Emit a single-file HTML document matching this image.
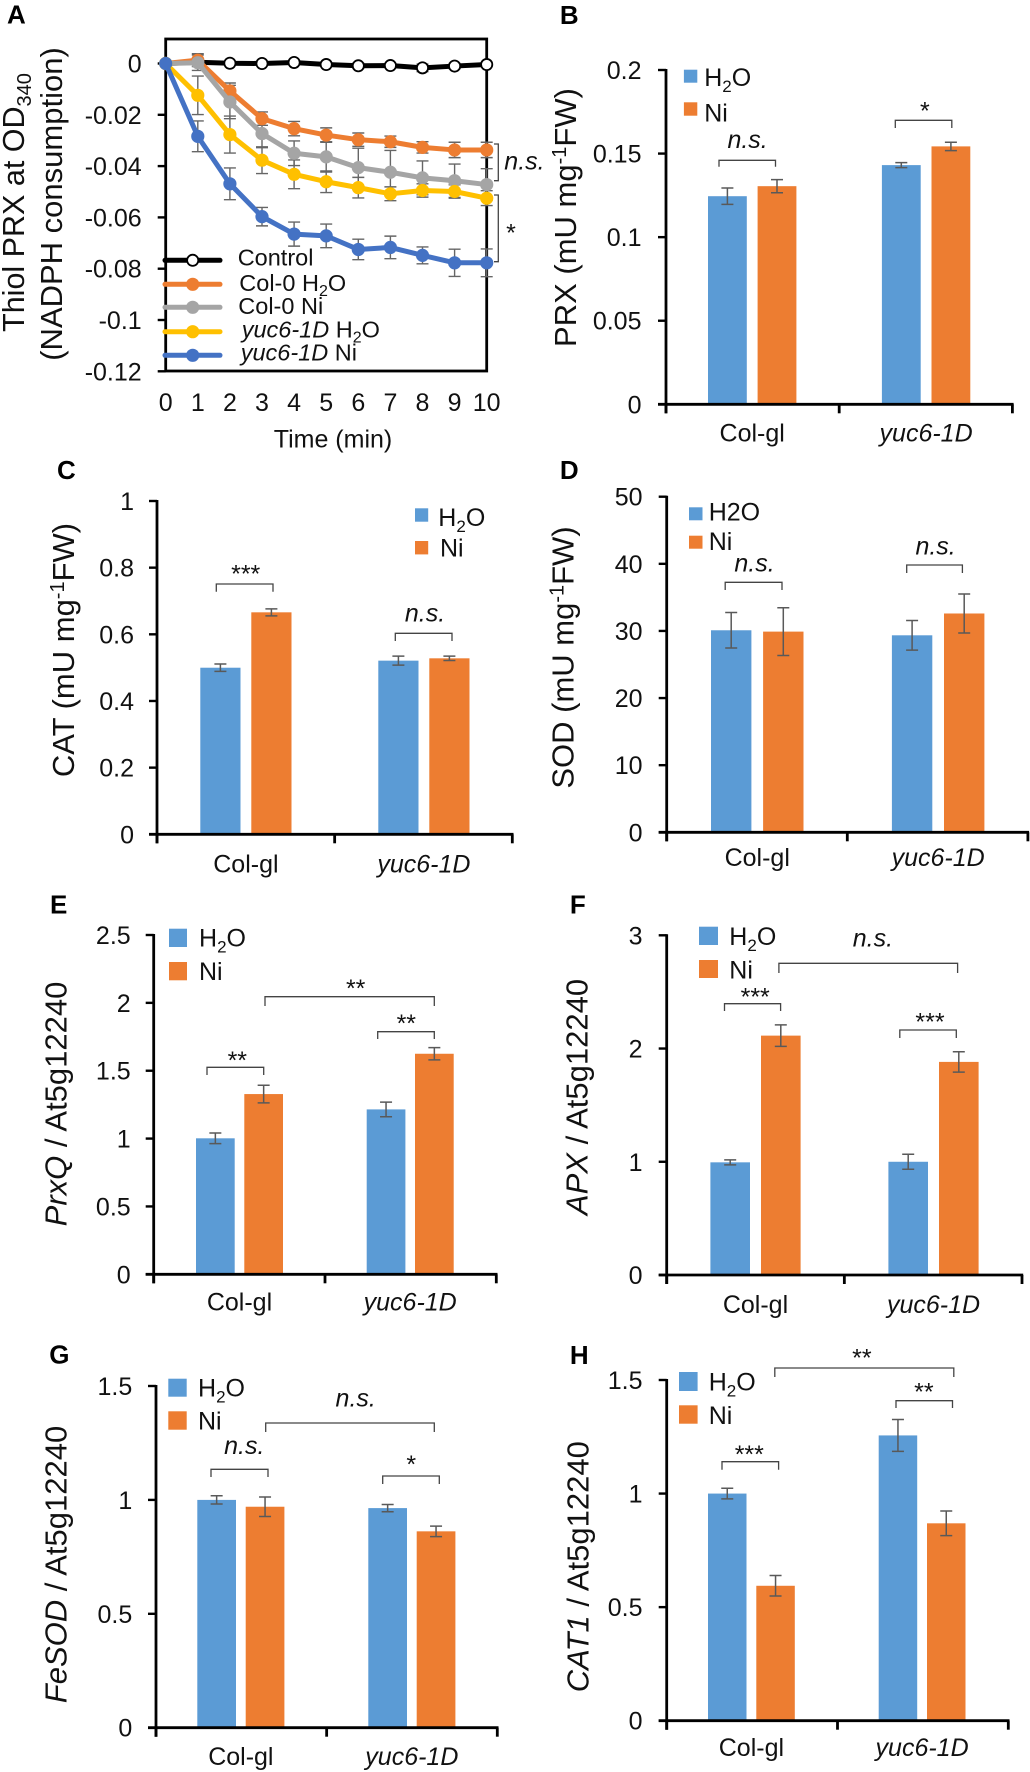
<!DOCTYPE html>
<html lang="en">
<head>
<meta charset="utf-8">
<title>Antioxidant enzyme activity and expression panels</title>
<style>
html,body{margin:0;padding:0;background:#fff;}
svg{display:block;}
text{font-family:"Liberation Sans",Arial,sans-serif;fill:#111;}
.tick,.leg,.cat,.ns,.star{font-size:25px;}
.ttl{font-size:31px;}
.let{font-size:26px;font-weight:bold;fill:#000;}
.it{font-style:italic;}
.lg{font-size:23.5px;}
.br{fill:none;stroke:#444;stroke-width:1.3;}
.blue{fill:#5B9BD5;}
.orange{fill:#ED7D31;}
</style>
</head>
<body>
<svg id="figure" xmlns="http://www.w3.org/2000/svg" width="1030" height="1772" viewBox="0 0 1030 1772">
<rect x="0" y="0" width="1030" height="1772" fill="#fff"/>

<!-- Panel A static -->
<g id="panel-a">
<text class="let" x="7" y="23.5">A</text>
<text class="ttl" style="font-size:30.5px" text-anchor="middle" transform="translate(24,202.5) rotate(-90)">Thiol PRX at OD<tspan font-size="20" dy="7">340</tspan></text>
<text class="ttl" text-anchor="middle" transform="translate(62,204) rotate(-90)">(NADPH consumption)</text>
<text class="tick" text-anchor="middle" x="333" y="447.7">Time (min)</text>
</g>

<!-- Panel B static -->
<g id="panel-b">
<text class="let" x="559.9" y="24">B</text>
<text class="ttl" text-anchor="middle" transform="translate(576,217.5) rotate(-90)">PRX (mU mg<tspan font-size="20" dy="-10">-1</tspan><tspan dy="10">FW)</tspan></text>
<rect class="blue" x="683.9" y="69.7" width="13.4" height="13"/>
<text class="leg" x="704.2" y="86">H<tspan font-size="17" dy="6">2</tspan><tspan dy="-6">O</tspan></text>
<rect class="orange" x="683.9" y="102.3" width="13.4" height="13.4"/>
<text class="leg" x="704.2" y="121.3">Ni</text>
<path class="br" d="M719 166.7V160.3H775.5V166.7"/>
<text class="ns it" text-anchor="middle" x="747.6" y="148">n.s.</text>
<path class="br" d="M895.3 128V120.3H951.8V128"/>
<text class="star" text-anchor="middle" x="924.9" y="119.7">*</text>
</g>

<!-- Panel C static -->
<g id="panel-c">
<text class="let" x="57" y="479">C</text>
<text class="ttl" text-anchor="middle" transform="translate(74,650) rotate(-90)">CAT (mU mg<tspan font-size="20" dy="-10">-1</tspan><tspan dy="10">FW)</tspan></text>
<rect class="blue" x="415" y="508.3" width="13.2" height="13.4"/>
<text class="leg" x="438.3" y="526">H<tspan font-size="17" dy="6">2</tspan><tspan dy="-6">O</tspan></text>
<rect class="orange" x="415" y="541" width="13.2" height="13.4"/>
<text class="leg" x="440" y="556.7">Ni</text>
<path class="br" d="M216.3 591.7V584H273V591.7"/>
<text class="star" text-anchor="middle" x="245.7" y="582.7">***</text>
<path class="br" d="M395.3 641V633.3H452V641"/>
<text class="ns it" text-anchor="middle" x="425" y="621.7">n.s.</text>
</g>

<!-- Panel D static -->
<g id="panel-d">
<text class="let" x="559.9" y="479">D</text>
<text class="ttl" text-anchor="middle" transform="translate(573.7,657.5) rotate(-90)">SOD (mU mg<tspan font-size="20" dy="-10">-1</tspan><tspan dy="10">FW)</tspan></text>
<rect class="blue" x="689" y="507.3" width="13.5" height="13"/>
<text class="leg" x="708.7" y="520.7">H2O</text>
<rect class="orange" x="689" y="535.7" width="13.5" height="13"/>
<text class="leg" x="708.7" y="550">Ni</text>
<path class="br" d="M725.2 590V582.3H782V590"/>
<text class="ns it" text-anchor="middle" x="754.5" y="571.7">n.s.</text>
<path class="br" d="M906.7 573V565H962.4V573"/>
<text class="ns it" text-anchor="middle" x="935.6" y="554.3">n.s.</text>
</g>

<!-- Panel E static -->
<g id="panel-e">
<text class="let" x="50" y="913.3">E</text>
<text class="ttl" text-anchor="middle" transform="translate(66.7,1104) rotate(-90)"><tspan class="it">PrxQ</tspan> / At5g12240</text>
<rect class="blue" x="169" y="928.7" width="18" height="18.3"/>
<text class="leg" x="199" y="946.7">H<tspan font-size="17" dy="6">2</tspan><tspan dy="-6">O</tspan></text>
<rect class="orange" x="169" y="962" width="18" height="18.3"/>
<text class="leg" x="199" y="980">Ni</text>
<path class="br" d="M207 1075V1067.3H263.7V1075"/>
<text class="star" text-anchor="middle" x="237.3" y="1069">**</text>
<path class="br" d="M377.7 1039V1031.7H434.3V1039"/>
<text class="star" text-anchor="middle" x="406.3" y="1032">**</text>
<path class="br" d="M265 1006V996.7H434.3V1006"/>
<text class="star" text-anchor="middle" x="355.7" y="997">**</text>
</g>

<!-- Panel F static -->
<g id="panel-f">
<text class="let" x="569.9" y="913.3">F</text>
<text class="ttl" text-anchor="middle" transform="translate(587.5,1097) rotate(-90)"><tspan class="it">APX</tspan> / At5g12240</text>
<rect class="blue" x="699" y="926.7" width="19" height="18.3"/>
<text class="leg" x="729.3" y="945">H<tspan font-size="17" dy="6">2</tspan><tspan dy="-6">O</tspan></text>
<rect class="orange" x="699" y="960" width="19" height="18"/>
<text class="leg" x="729.3" y="978.3">Ni</text>
<path class="br" d="M724.5 1011V1003.7H780.6V1011"/>
<text class="star" text-anchor="middle" x="755.2" y="1005.7">***</text>
<path class="br" d="M899.8 1038V1030H956.3V1038"/>
<text class="star" text-anchor="middle" x="930" y="1030.7">***</text>
<path class="br" d="M778.9 973V963.3H957.6V973"/>
<text class="ns it" text-anchor="middle" x="872.9" y="946.7">n.s.</text>
</g>

<!-- Panel G static -->
<g id="panel-g">
<text class="let" x="49.3" y="1363.3">G</text>
<text class="ttl" text-anchor="middle" transform="translate(66.7,1564.5) rotate(-90)"><tspan class="it">FeSOD</tspan> / At5g12240</text>
<rect class="blue" x="168.3" y="1378.7" width="18.4" height="18"/>
<text class="leg" x="198" y="1396.7">H<tspan font-size="17" dy="6">2</tspan><tspan dy="-6">O</tspan></text>
<rect class="orange" x="168.3" y="1411.3" width="18.4" height="18.4"/>
<text class="leg" x="198" y="1429.3">Ni</text>
<path class="br" d="M211 1477V1469.3H268V1477"/>
<text class="ns it" text-anchor="middle" x="244.3" y="1454">n.s.</text>
<path class="br" d="M382.7 1484V1476H439.3V1484"/>
<text class="star" text-anchor="middle" x="411.3" y="1473">*</text>
<path class="br" d="M265.7 1432V1423H434.3V1432"/>
<text class="ns it" text-anchor="middle" x="355.7" y="1406.7">n.s.</text>
</g>

<!-- Panel H static -->
<g id="panel-h">
<text class="let" x="569.9" y="1364">H</text>
<text class="ttl" text-anchor="middle" transform="translate(588.3,1566.7) rotate(-90)"><tspan class="it">CAT1</tspan> / At5g12240</text>
<rect class="blue" x="679" y="1372" width="18.6" height="19"/>
<text class="leg" x="708.7" y="1390.7">H<tspan font-size="17" dy="6">2</tspan><tspan dy="-6">O</tspan></text>
<rect class="orange" x="679" y="1405.3" width="18.6" height="18.4"/>
<text class="leg" x="708.7" y="1424">Ni</text>
<path class="br" d="M722 1469.7V1461.7H778.6V1469.7"/>
<text class="star" text-anchor="middle" x="749.3" y="1463">***</text>
<path class="br" d="M896 1408V1400.7H952.5V1408"/>
<text class="star" text-anchor="middle" x="923.9" y="1400.4">**</text>
<path class="br" d="M774.8 1377V1368H953.8V1377"/>
<text class="star" text-anchor="middle" x="861.9" y="1366.4">**</text>
</g>
</svg>

<script>
// ---------- Panel A data ----------
const minutes = [0, 1, 2, 3, 4, 5, 6, 7, 8, 9, 10];
const thiolTicks = ['0', '-0.02', '-0.04', '-0.06', '-0.08', '-0.1', '-0.12'];
const controlValues = [0, 0.0005, 0.0001, 0, 0.0004, -0.0004, -0.0009, -0.0008, -0.0017, -0.001, -0.0004];
const controlErr = [0, 0.0005, 0.0004, 0.0004, 0.0005, 0.0005, 0.001, 0.0008, 0.0015, 0.001, 0.0005];
const colH2OValues = [0, 0.0013, -0.0107, -0.0215, -0.0254, -0.0279, -0.0297, -0.0305, -0.0327, -0.0337, -0.0337];
const colH2OErr = [0, 0.0025, 0.0031, 0.0026, 0.0028, 0.0028, 0.0026, 0.0022, 0.0022, 0.003, 0.003];
const colNiValues = [0, 0.0003, -0.015, -0.0273, -0.035, -0.0364, -0.0406, -0.0424, -0.0446, -0.0457, -0.0472];
const colNiErr = [0, 0.003, 0.0065, 0.0055, 0.0048, 0.0059, 0.0076, 0.0085, 0.0066, 0.0065, 0.0062];
const yucH2OValues = [0, -0.0124, -0.0277, -0.0377, -0.0432, -0.0461, -0.0484, -0.0508, -0.0495, -0.0499, -0.0525];
const yucH2OErr = [0, 0.0075, 0.0072, 0.0052, 0.0056, 0.0042, 0.004, 0.0027, 0.0026, 0.0026, 0.0029];
const yucNiValues = [0, -0.0284, -0.0469, -0.0597, -0.0665, -0.0672, -0.0725, -0.0717, -0.0748, -0.0777, -0.0777];
const yucNiErr = [0, 0.006, 0.0062, 0.0036, 0.0047, 0.0046, 0.004, 0.0044, 0.0033, 0.0053, 0.0054];

// ---------- Bar panel data ----------
const categories = ['Col-gl', 'yuc6-1D'];

const prxTicks = ['0', '0.05', '0.1', '0.15', '0.2'];
const prxH2O = [0.1245, 0.1431];
const prxNi = [0.1305, 0.1543];
const prxH2OErr = [0.0049, 0.0015];
const prxNiErr = [0.0039, 0.0025];

const catTicks = ['0', '0.2', '0.4', '0.6', '0.8', '1'];
const catH2O = [0.4998, 0.521];
const catNi = [0.666, 0.528];
const catH2OErr = [0.011, 0.0135];
const catNiErr = [0.0105, 0.0065];

const sodTicks = ['0', '10', '20', '30', '40', '50'];
const sodH2O = [30.1, 29.35];
const sodNi = [29.9, 32.6];
const sodH2OErr = [2.65, 2.2];
const sodNiErr = [3.55, 2.9];

const prxqTicks = ['0', '0.5', '1', '1.5', '2', '2.5'];
const prxqH2O = [1.002, 1.215];
const prxqNi = [1.328, 1.625];
const prxqH2OErr = [0.039, 0.054];
const prxqNiErr = [0.065, 0.045];

const apxTicks = ['0', '1', '2', '3'];
const apxH2O = [0.995, 1.0];
const apxNi = [2.114, 1.882];
const apxH2OErr = [0.022, 0.066];
const apxNiErr = [0.095, 0.09];

const fesodTicks = ['0', '0.5', '1', '1.5'];
const fesodH2O = [1.0, 0.964];
const fesodNi = [0.97, 0.862];
const fesodH2OErr = [0.018, 0.016];
const fesodNiErr = [0.043, 0.023];

const cat1Ticks = ['0', '0.5', '1', '1.5'];
const cat1H2O = [1.0, 1.256];
const cat1Ni = [0.594, 0.869];
const cat1H2OErr = [0.0235, 0.07];
const cat1NiErr = [0.045, 0.054];

// ---------- Helpers ----------
const NS = 'http://www.w3.org/2000/svg';
function make(tag, attrs, parent) {
  const el = document.createElementNS(NS, tag);
  for (const k in attrs) el.setAttribute(k, attrs[k]);
  parent.appendChild(el);
  return el;
}
function seg(x1, y1, x2, y2, stroke, width, parent) {
  return make('line', { x1: x1, y1: y1, x2: x2, y2: y2, stroke: stroke, 'stroke-width': width }, parent);
}

// ---------- Bar panels ----------
function drawBarPanel(id, frame, ticks, h2o, ni, h2oErr, niErr) {
  const root = document.getElementById(id);
  const yMax = parseFloat(ticks[ticks.length - 1]);
  const yOf = function (v) { return frame.y0 - (v / yMax) * (frame.y0 - frame.yTop); };
  const barLeft = function (g, s) { return frame.first + g * frame.group + s * frame.pair; };

  const seriesList = [h2o, ni];
  const errList = [h2oErr, niErr];
  const fills = ['#5B9BD5', '#ED7D31'];
  for (let g = 0; g < categories.length; g++) {
    for (let s = 0; s < 2; s++) {
      const top = yOf(seriesList[s][g]);
      const bar = make('rect', { x: barLeft(g, s), y: top, width: frame.w, height: frame.y0 - top, fill: fills[s] }, root);
      
      
    }
  }
  for (let g = 0; g < categories.length; g++) {
    for (let s = 0; s < 2; s++) {
      const cx = barLeft(g, s) + frame.w / 2;
      const hi = yOf(seriesList[s][g] + errList[s][g]);
      const lo = yOf(seriesList[s][g] - errList[s][g]);
      const err = make('path', {
        d: 'M' + (cx - 6) + ' ' + hi + 'H' + (cx + 6) + 'M' + cx + ' ' + hi + 'V' + lo + 'M' + (cx - 6) + ' ' + lo + 'H' + (cx + 6),
        fill: 'none', stroke: '#595959', 'stroke-width': 1.5
      }, root);
      
      
    }
  }

  const yAxis = seg(frame.axisX, frame.yTop - 1, frame.axisX, frame.y0 + 9, '#000', 2.8, root);
  
  
  const xAxis = seg(frame.axisX - 8, frame.y0, frame.right + 1.2, frame.y0, '#000', 2.8, root);
  
  

  for (let i = 0; i < ticks.length; i++) {
    const ty = yOf(parseFloat(ticks[i]));
    const mark = seg(frame.axisX - 8, ty, frame.axisX, ty, '#000', 2.4, root);
    
    
    const label = make('text', { class: 'tick', x: frame.tickRight, y: ty + 9, 'text-anchor': 'end' }, root);
    label.textContent = ticks[i];
    
    
  }
  for (let i = 0; i <= categories.length; i++) {
    const tx = frame.axisX + (frame.right - frame.axisX) * i / categories.length;
    const mark = seg(tx, frame.y0, tx, frame.y0 + 9, '#000', 2.8, root);
    
    
  }
  for (let g = 0; g < categories.length; g++) {
    const cx = barLeft(g, 0) + (frame.pair + frame.w) / 2;
    const cls = g === 1 ? 'cat it' : 'cat';
    const label = make('text', { class: cls, x: cx, y: frame.catY, 'text-anchor': 'middle' }, root);
    label.textContent = categories[g];
    
    
  }
}

drawBarPanel('panel-b', { axisX: 666, right: 1012.4, y0: 404.3, yTop: 70, first: 708, pair: 49.6, group: 173.9, w: 38.8, tickRight: 641.5, catY: 441.7 }, prxTicks, prxH2O, prxNi, prxH2OErr, prxNiErr);
drawBarPanel('panel-c', { axisX: 157, right: 512.3, y0: 834.3, yTop: 501, first: 200.3, pair: 51, group: 178, w: 40.2, tickRight: 134, catY: 872.7 }, catTicks, catH2O, catNi, catH2OErr, catNiErr);
drawBarPanel('panel-d', { axisX: 666.7, right: 1027.9, y0: 832.3, yTop: 496.7, first: 711, pair: 52.1, group: 180.9, w: 40.4, tickRight: 642.5, catY: 866 }, sodTicks, sodH2O, sodNi, sodH2OErr, sodNiErr);
drawBarPanel('panel-e', { axisX: 153.7, right: 496.3, y0: 1274.3, yTop: 935, first: 196, pair: 48.3, group: 170.7, w: 38.7, tickRight: 130.7, catY: 1310.7 }, prxqTicks, prxqH2O, prxqNi, prxqH2OErr, prxqNiErr);
drawBarPanel('panel-f', { axisX: 666.7, right: 1022, y0: 1275, yTop: 935.3, first: 710.4, pair: 50.6, group: 178, w: 39.6, tickRight: 642.5, catY: 1313 }, apxTicks, apxH2O, apxNi, apxH2OErr, apxNiErr);
drawBarPanel('panel-g', { axisX: 156, right: 497.3, y0: 1727.7, yTop: 1386, first: 197.3, pair: 48.4, group: 171, w: 38.7, tickRight: 132.3, catY: 1765 }, fesodTicks, fesodH2O, fesodNi, fesodH2OErr, fesodNiErr);
drawBarPanel('panel-h', { axisX: 666.7, right: 1008.3, y0: 1720.7, yTop: 1380, first: 708, pair: 48.3, group: 170.7, w: 38.5, tickRight: 642.5, catY: 1756 }, cat1Ticks, cat1H2O, cat1Ni, cat1H2OErr, cat1NiErr);

// ---------- Panel A ----------
(function () {
  const root = document.getElementById('panel-a');
  const left = 165.7, right = 486.7, top = 39, bottom = 371, zero = 63.5, pxPerUnit = 2565;
  const xOf = function (m) { return left + (m / minutes[minutes.length - 1]) * (right - left); };
  const yOf = function (v) { return zero - v * pxPerUnit; };

  const box = make('rect', { x: left, y: top, width: right - left, height: bottom - top, fill: 'none', stroke: '#000', 'stroke-width': 2.8 }, root);
  
  

  for (let i = 0; i < thiolTicks.length; i++) {
    const ty = yOf(parseFloat(thiolTicks[i]));
    const mark = seg(left - 8, ty, left, ty, '#000', 2.4, root);
    
    
    const label = make('text', { class: 'tick', x: 141.7, y: ty + 9, 'text-anchor': 'end' }, root);
    label.textContent = thiolTicks[i];
    
    
  }
  for (let i = 0; i < minutes.length; i++) {
    const label = make('text', { class: 'tick', x: xOf(minutes[i]), y: 411, 'text-anchor': 'middle' }, root);
    label.textContent = String(minutes[i]);
    
    
  }

  const seriesValues = [controlValues, colH2OValues, colNiValues, yucH2OValues, yucNiValues];
  const seriesErr = [controlErr, colH2OErr, colNiErr, yucH2OErr, yucNiErr];
  const seriesColor = ['#000000', '#ED7D31', '#A5A5A5', '#FFC000', '#4472C4'];
  const seriesKey = ['control', 'col-0-h2o', 'col-0-ni', 'yuc6-1d-h2o', 'yuc6-1d-ni'];

  for (let s = 0; s < seriesValues.length; s++) {
    for (let i = 1; i < minutes.length; i++) {
      const cx = xOf(minutes[i]);
      const hi = yOf(seriesValues[s][i] + seriesErr[s][i]);
      const lo = yOf(seriesValues[s][i] - seriesErr[s][i]);
      const err = make('path', {
        d: 'M' + (cx - 6) + ' ' + hi + 'H' + (cx + 6) + 'M' + cx + ' ' + hi + 'V' + lo + 'M' + (cx - 6) + ' ' + lo + 'H' + (cx + 6),
        fill: 'none', stroke: '#666', 'stroke-width': 1.4
      }, root);
      
      
    }
  }
  for (let s = 0; s < seriesValues.length; s++) {
    const pts = [];
    for (let i = 0; i < minutes.length; i++) pts.push(xOf(minutes[i]) + ',' + yOf(seriesValues[s][i]));
    const line = make('polyline', { points: pts.join(' '), fill: 'none', stroke: seriesColor[s], 'stroke-width': 5, 'stroke-linejoin': 'round' }, root);
    
    
    for (let i = 0; i < minutes.length; i++) {
      const isControl = s === 0;
      const dot = make('circle', {
        cx: xOf(minutes[i]), cy: yOf(seriesValues[s][i]),
        r: isControl ? 5.6 : 6.6,
        fill: isControl ? '#fff' : seriesColor[s],
        stroke: isControl ? '#000' : 'none',
        'stroke-width': isControl ? 1.8 : 0
      }, root);
      
      
    }
  }

  // Legend
  const legendRows = [
    { key: 'control', color: '#000000', y: 260.3, tx: 237.7, ty: 265.7, html: 'Control' },
    { key: 'col-0-h2o', color: '#ED7D31', y: 284.3, tx: 239.3, ty: 291, html: 'Col-0 H<tspan font-size="16" dy="5">2</tspan><tspan dy="-5">O</tspan>' },
    { key: 'col-0-ni', color: '#A5A5A5', y: 307.3, tx: 238.3, ty: 314, html: 'Col-0 Ni' },
    { key: 'yuc6-1d-h2o', color: '#FFC000', y: 331.7, tx: 241.7, ty: 337.3, html: '<tspan class="it">yuc6-1D</tspan> H<tspan font-size="16" dy="5">2</tspan><tspan dy="-5">O</tspan>' },
    { key: 'yuc6-1d-ni', color: '#4472C4', y: 355.3, tx: 240.7, ty: 360.7, html: '<tspan class="it">yuc6-1D</tspan> Ni' }
  ];
  for (let i = 0; i < legendRows.length; i++) {
    const row = legendRows[i];
    const sample = seg(165, row.y, 220, row.y, row.color, 5, root);
    sample.setAttribute('stroke-linecap', 'round');
    
    
    const isControl = row.key === 'control';
    const marker = make('circle', {
      cx: 192.7, cy: row.y, r: isControl ? 5.6 : 6.6,
      fill: isControl ? '#fff' : row.color,
      stroke: isControl ? '#000' : 'none',
      'stroke-width': isControl ? 1.8 : 0
    }, root);
    
    
    const text = make('text', { class: 'lg', x: row.tx, y: row.ty }, root);
    text.innerHTML = row.html;
    
    
  }

  // Significance brackets
  const b1 = make('path', { class: 'br', d: 'M494 144H498.3V180.7H494' }, root);
  
  
  const t1 = make('text', { class: 'ns it', x: 504.3, y: 169.3 }, root);
  t1.textContent = 'n.s.';
  
  
  const b2 = make('path', { class: 'br', d: 'M494 195H498.3V261.7H494' }, root);
  
  
  const t2 = make('text', { class: 'star', x: 511, y: 241.4, 'text-anchor': 'middle' }, root);
  t2.textContent = '*';
  
  
})();
</script>
</body>
</html>
